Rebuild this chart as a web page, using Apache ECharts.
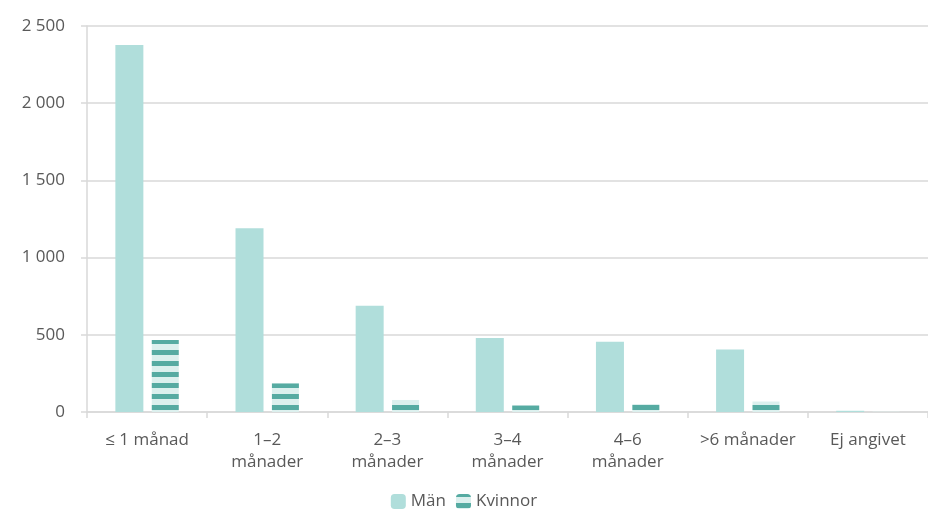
<!DOCTYPE html>
<html>
<head>
<meta charset="utf-8">
<script src="https://cdn.jsdelivr.net/npm/echarts@6/dist/echarts.min.js"></script>
<style>
  html, body { margin: 0; padding: 0; background: #fff; }
  #chart { width: 928px; height: 512px; }
</style>
</head>
<body>
<div id="chart"></div>
<script>
// kategorier och värden
const categories = ['≤ 1 månad', '1–2\nmånader', '2–3\nmånader', '3–4\nmånader', '4–6\nmånader', '>6 månader', 'Ej angivet'];
const manValues = [2377, 1190, 688, 480, 455, 405, 8];
const kvinnorValues = [466, 185, 78, 42, 52, 68, 2];
const yTicks = [0, 500, 1000, 1500, 2000, 2500];

// randigt mönster för Kvinnor
function stripePattern() {
  const c = document.createElement('canvas');
  c.width = 11;
  c.height = 11;
  const ctx = c.getContext('2d');
  ctx.fillStyle = '#dcf0ee';
  ctx.fillRect(0, 0, 11, 11);
  ctx.fillStyle = '#56aba2';
  ctx.fillRect(0, 0, 11, 3);
  ctx.fillRect(0, 9, 11, 2);
  return c;
}

const chart = echarts.init(document.getElementById('chart'), null, { renderer: 'canvas' });
const font = 'Open Sans';
const grey = '#d9d9d9';

var option = {
  animation: false,
  textStyle: { fontFamily: font },
  grid: {
    left: 87,
    top: 26,
    bottom: 100,
    width: 850
  },
  legend: {
    bottom: -3,
    left: 'center',
    itemWidth: 15,
    itemHeight: 15,
    itemGap: 10,
    textStyle: { fontSize: 17, color: '#595959', fontFamily: font },
    data: ['Män', 'Kvinnor']
  },
  xAxis: {
    type: 'category',
    data: categories,
    axisLine: { lineStyle: { color: grey, width: 1.5 } },
    axisTick: { show: true, length: 6, lineStyle: { color: grey, width: 1.5 } },
    axisLabel: {
      interval: 0,
      color: '#595959',
      fontSize: 17,
      lineHeight: 22,
      margin: 17
    }
  },
  yAxis: {
    type: 'value',
    min: 0,
    max: 2500,
    interval: 500,
    axisLine: { show: true, lineStyle: { color: grey, width: 1.5 } },
    axisTick: { show: true, length: 6, lineStyle: { color: grey, width: 1.5 } },
    splitLine: { lineStyle: { color: grey, width: 1.5 } },
    axisLabel: {
      color: '#595959',
      fontSize: 17,
      margin: 22,
      formatter: function (v) {
        return yTicks.indexOf(v) >= 0 ? String(v).replace(/\B(?=(\d{3})+(?!\d))/g, ' ') : '';
      }
    }
  },
  series: [
    {
      name: 'Män',
      type: 'bar',
      data: manValues,
      barWidth: 28,
      barGap: '30%',
      itemStyle: { color: '#b0dedb' }
    },
    {
      name: 'Kvinnor',
      type: 'bar',
      data: kvinnorValues,
      barWidth: 27,
      itemStyle: { color: { image: stripePattern(), repeat: 'repeat' } }
    }
  ]
};

chart.setOption(option);
</script>
</body>
</html>
